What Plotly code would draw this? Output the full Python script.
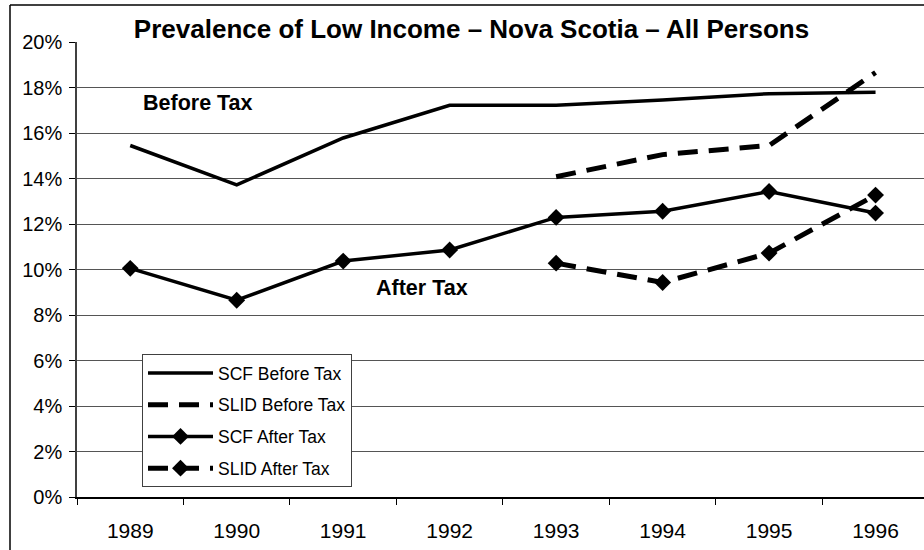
import plotly.graph_objects as go

years = ["1989", "1990", "1991", "1992", "1993", "1994", "1995", "1996"]
slid_years = ["1993", "1994", "1995", "1996"]

scf_before = [15.45, 13.72, 15.78, 17.22, 17.22, 17.45, 17.73, 17.79]
slid_before = [14.08, 15.05, 15.45, 18.66]
scf_after = [10.05, 8.65, 10.37, 10.86, 12.29, 12.56, 13.43, 12.48]
slid_after = [10.28, 9.43, 10.72, 13.27]

y_ticks = [0, 2, 4, 6, 8, 10, 12, 14, 16, 18, 20]
y_tick_text = [f"{v}%" for v in y_ticks]

FONT = "Liberation Sans, Arial, sans-serif"
DASH = "20px,11px"

fig = go.Figure()
fig.add_trace(go.Scatter(x=years, y=scf_before, name="SCF Before Tax", mode="lines",
                         line=dict(color="black", width=3.5), legendgroup="a"))
fig.add_trace(go.Scatter(x=slid_years, y=slid_before, name="SLID Before Tax", mode="lines",
                         line=dict(color="black", width=5, dash=DASH), legendgroup="b"))
fig.add_trace(go.Scatter(x=years, y=scf_after, name="SCF After Tax", mode="lines+markers",
                         line=dict(color="black", width=3.5),
                         marker=dict(symbol="diamond", size=13, color="black"), legendgroup="c"))
fig.add_trace(go.Scatter(x=slid_years, y=slid_after, name="SLID After Tax", mode="lines+markers",
                         line=dict(color="black", width=5, dash=DASH),
                         marker=dict(symbol="diamond", size=13, color="black"), legendgroup="d"))

W, H = 924, 550
L, R, T, B = 77, 0, 42, 53
pw, ph = W - L - R, H - T - B

def px_x(x):
    return (x - L) / pw

def px_y(y):
    return 1 - (y - T) / ph

fig.update_layout(
    width=W, height=H,
    margin=dict(l=L, r=R, t=T, b=B, autoexpand=False),
    paper_bgcolor="white", plot_bgcolor="white",
    font=dict(family=FONT, color="black"),
    title=dict(text="<b>Prevalence of Low Income – Nova Scotia – All Persons</b>",
               font=dict(size=26, family=FONT, color="black"),
               x=px_x(471.5), xref="paper", xanchor="center",
               y=1 - 29 / H, yref="container", yanchor="middle"),
    xaxis=dict(type="category", categoryorder="array", categoryarray=years,
               range=[-0.5, 7.455], tickson="boundaries", ticks="outside", ticklen=6,
               tickcolor="black", showline=True, linecolor="black", linewidth=1.5,
               showgrid=False, tickfont=dict(size=21, family=FONT), ticklabelstandoff=14),
    yaxis=dict(range=[0, 20], tickvals=y_ticks, ticktext=y_tick_text, ticks="outside", ticklen=6,
               tickcolor="black", showline=True, linecolor="#404040", linewidth=1.5,
               showgrid=True, gridcolor="#555555", gridwidth=1, zeroline=False,
               tickfont=dict(size=20, family=FONT), ticklabelstandoff=3),
    legend=dict(x=px_x(142), y=px_y(354), xanchor="left", yanchor="top",
                bgcolor="white", bordercolor="#404040", borderwidth=1,
                font=dict(size=17.5, family=FONT), tracegroupgap=6, itemwidth=65),
    showlegend=True,
    annotations=[
        dict(text="<b>Before Tax</b>", x=px_x(198), y=px_y(103), xref="paper", yref="paper",
             xanchor="center", yanchor="middle", showarrow=False, font=dict(size=21.5, family=FONT)),
        dict(text="<b>After Tax</b>", x=px_x(422), y=px_y(288), xref="paper", yref="paper",
             xanchor="center", yanchor="middle", showarrow=False, font=dict(size=21.5, family=FONT)),
    ],
    shapes=[
        dict(type="line", xref="paper", yref="paper", x0=px_x(10), x1=px_x(10),
             y0=px_y(5), y1=px_y(560), line=dict(color="black", width=1.5)),
        dict(type="line", xref="paper", yref="paper", x0=px_x(10), x1=px_x(930),
             y0=px_y(5), y1=px_y(5), line=dict(color="black", width=1.5)),
    ],
)

fig.write_html("out.html", config={"displayModeBar": False},
               post_script="document.body.style.margin='0';document.body.style.overflow='hidden';")
